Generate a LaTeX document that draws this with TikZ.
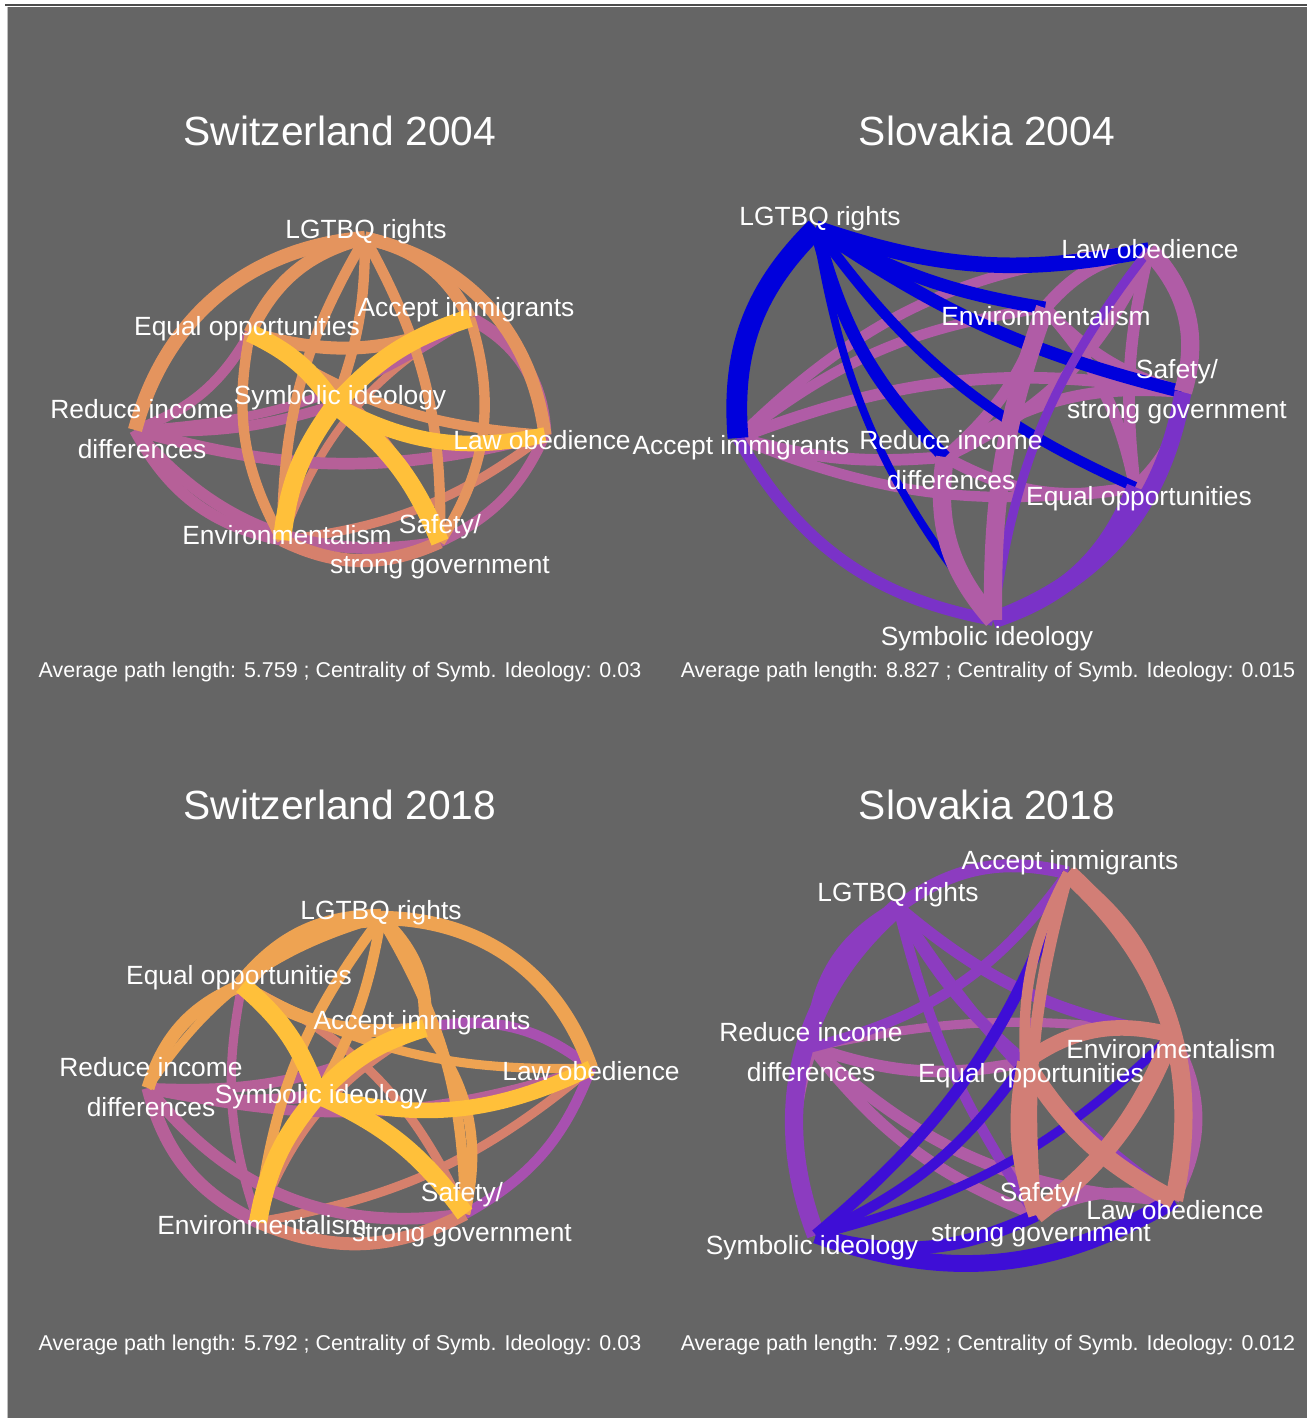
\documentclass[tikz,border=0pt]{standalone}
\usepackage{fontspec}
\setmainfont{Liberation Sans}
\usepackage{tikz}

\definecolor{panelgray}{RGB}{101,101,101}
\definecolor{chyellow}{RGB}{255,192,58}
\definecolor{chorange}{RGB}{228,148,94}
\definecolor{chorangeb}{RGB}{238,163,82}
\definecolor{chmagenta}{RGB}{182,96,152}
\definecolor{chsalmon}{RGB}{214,128,108}
\definecolor{chpurple}{RGB}{168,80,176}
\definecolor{skblue}{RGB}{0,0,220}
\definecolor{skviolet}{RGB}{122,50,200}
\definecolor{skmauve}{RGB}{176,92,166}
\definecolor{skindigo}{RGB}{62,14,214}
\definecolor{skpurple}{RGB}{140,60,192}
\definecolor{sksalmon}{RGB}{210,126,118}

\tikzset{
  lnk/.style={line cap=butt},
  vlabel/.style={text=white, font=\fontsize{15}{22.7}\selectfont, inner sep=0pt, align=center},
  ptitle/.style={text=white, font=\fontsize{23.2}{28}\selectfont, inner sep=0pt},
  pfoot/.style={text=white, font=\fontsize{12.2}{14}\selectfont, inner sep=0pt}
}

\begin{document}
\begin{tikzpicture}[x=0.02cm, y=-0.02cm]
\useasboundingbox (0,0) rectangle (1307,1418);
\fill[white] (0,0) rectangle (1307,1418);
\fill[panelgray] (7,7) rectangle (1307,1418);
\draw[black!70, line width=0.3mm] (5,5) -- (1307,5);
\draw[black!25, line width=0.2mm] (7,7) -- (7,1418);

% node points
\coordinate (chaL) at (365,238);  \coordinate (chaA) at (470,318);
\coordinate (chaE) at (250,333);  \coordinate (chaS) at (335,405);
\coordinate (chaR) at (135,430);  \coordinate (chaO) at (545,435);
\coordinate (chaV) at (282,540);  \coordinate (chaG) at (440,542);

\coordinate (skaL) at (816,228);  \coordinate (skaO) at (1149,250);
\coordinate (skaV) at (1045,308); \coordinate (skaG) at (1183,392);
\coordinate (skaA) at (738,438);  \coordinate (skaR) at (945,457);
\coordinate (skaE) at (1135,487); \coordinate (skaS) at (993,620);

\coordinate (chbL) at (381,918);  \coordinate (chbE) at (242,985);
\coordinate (chbA) at (425,1028); \coordinate (chbO) at (591,1068);
\coordinate (chbR) at (148,1088); \coordinate (chbS) at (318,1095);
\coordinate (chbG) at (465,1214); \coordinate (chbV) at (258,1222);

\coordinate (skbA) at (1068,873); \coordinate (skbL) at (898,907);
\coordinate (skbR) at (812,1047); \coordinate (skbV) at (1172,1035);
\coordinate (skbE) at (1025,1062);\coordinate (skbG) at (1036,1215);
\coordinate (skbO) at (1174,1200);\coordinate (skbS) at (816,1235);

% Switzerland 2004
\foreach \a/\b/\c/\w/\k in {
  chaA/chaV/chsalmon/6/-20, chaE/chaG/chsalmon/7/20, chaO/chaV/chsalmon/7/15,
  chaR/chaA/chmagenta/7/-15, chaR/chaE/chmagenta/8/-20, chaR/chaS/chmagenta/8/-10,
  chaR/chaO/chmagenta/9/-15, chaR/chaG/chmagenta/9/-30, chaV/chaR/chmagenta/9/25,
  chaO/chaG/chmagenta/8/20, chaA/chaO/chmagenta/10/30, chaG/chaV/chsalmon/10/25,
  chaL/chaV/chorange/8/-15, chaL/chaG/chorange/8/15, chaL/chaS/chorange/8/10,
  chaE/chaV/chorange/8/-20, chaE/chaO/chorange/8/-15, chaA/chaG/chorange/8/25,
  chaE/chaA/chorange/10/-20, chaL/chaA/chorange/10/25, chaL/chaO/chorange/10/35,
  chaE/chaL/chorange/10/25, chaR/chaL/chorange/11/35,
  chaS/chaO/chyellow/12/-20, chaS/chaE/chyellow/14/-15, chaS/chaG/chyellow/14/15,
  chaS/chaA/chyellow/14/15, chaS/chaV/chyellow/14/-15}
  \draw[lnk, draw=\c, line width=\w*0.26mm] (\a) to[bend left=\k] (\b);

% Slovakia 2004
\foreach \a/\b/\c/\w/\k in {
  skaA/skaO/skmauve/8/20, skaA/skaV/skmauve/8/15, skaA/skaG/skmauve/9/15,
  skaA/skaR/skmauve/9/-10, skaA/skaE/skmauve/8/-15, skaR/skaV/skmauve/9/-15,
  skaR/skaO/skmauve/9/-20, skaR/skaG/skmauve/9/20, skaR/skaE/skmauve/9/-20,
  skaV/skaO/skmauve/10/20, skaV/skaG/skmauve/9/-15, skaV/skaE/skmauve/9/15,
  skaO/skaE/skmauve/9/-10, skaG/skaE/skmauve/9/20,
  skaL/skaS/skblue/6/-15, skaL/skaE/skblue/8/-15, skaL/skaR/skblue/10/-15,
  skaL/skaG/skblue/10/-10, skaL/skaV/skblue/10/-10, skaL/skaO/skblue/12/-15,
  skaS/skaO/skviolet/7/15, skaS/skaA/skviolet/9/25,
  skaE/skaS/skviolet/13/25, skaG/skaS/skviolet/13/30,
  skaO/skaG/skmauve/14/30, skaR/skaS/skmauve/14/-25, skaV/skaS/skmauve/14/-10,
  skaA/skaL/skblue/16/25}
  \draw[lnk, draw=\c, line width=\w*0.26mm] (\a) to[bend left=\k] (\b);

% Switzerland 2018
\foreach \a/\b/\c/\w/\k in {
  chbA/chbV/chsalmon/6/-20, chbE/chbG/chsalmon/7/20, chbO/chbV/chsalmon/7/15,
  chbR/chbA/chmagenta/8/-15, chbE/chbV/chmagenta/7/-15, chbR/chbS/chmagenta/9/-10,
  chbR/chbO/chmagenta/8/-15, chbR/chbG/chmagenta/9/-30, chbV/chbR/chmagenta/10/25,
  chbO/chbG/chpurple/8/20, chbA/chbO/chpurple/8/25, chbG/chbV/chsalmon/10/25,
  chbR/chbL/chorangeb/6/20,
  chbL/chbV/chorangeb/8/-15, chbL/chbG/chorangeb/8/15, chbL/chbS/chorangeb/8/10,
  chbE/chbO/chorangeb/7/-15, chbA/chbG/chorangeb/8/25, chbE/chbR/chorangeb/10/-25,
  chbE/chbA/chorangeb/10/-20, chbL/chbA/chorangeb/10/25, chbL/chbO/chorangeb/11/35,
  chbE/chbL/chorangeb/14/25,
  chbS/chbO/chyellow/12/-20, chbS/chbE/chyellow/14/-15, chbS/chbG/chyellow/14/15,
  chbS/chbA/chyellow/14/15, chbS/chbV/chyellow/14/-15}
  \draw[lnk, draw=\c, line width=\w*0.26mm] (\a) to[bend left=\k] (\b);

% Slovakia 2018
\foreach \a/\b/\c/\w/\k in {
  skbR/skbV/skmauve/7/10, skbV/skbO/skmauve/8/30, skbG/skbO/skmauve/8/20,
  skbR/skbE/skmauve/9/-15, skbR/skbG/skmauve/9/-15, skbR/skbO/skmauve/9/-20,
  skbR/skbS/skmauve/9/-20,
  skbL/skbE/skpurple/9/-10, skbL/skbG/skpurple/8/-10, skbL/skbV/skpurple/9/-15,
  skbL/skbO/skpurple/8/-10, skbR/skbA/skpurple/8/-20,
  skbL/skbA/skpurple/10/25, skbR/skbL/skpurple/10/30, skbL/skbS/skpurple/14/-35,
  skbS/skbV/skindigo/7/-15, skbS/skbE/skindigo/8/-15, skbS/skbA/skindigo/9/-15,
  skbS/skbG/skindigo/10/-20, skbS/skbO/skindigo/13/-25,
  skbA/skbE/sksalmon/8/-15, skbA/skbG/sksalmon/9/-10, skbA/skbV/sksalmon/10/20,
  skbE/skbV/sksalmon/12/25, skbE/skbG/sksalmon/12/-15,
  skbA/skbO/sksalmon/14/30, skbE/skbO/sksalmon/14/-15, skbV/skbG/sksalmon/14/15}
  \draw[lnk, draw=\c, line width=\w*0.26mm] (\a) to[bend left=\k] (\b);

% titles and footers
\node[ptitle] (chaTitle) at (340,131) {Switzerland 2004};
\node[ptitle] (skaTitle) at (987,131) {Slovakia 2004};
\node[ptitle] (chbTitle) at (340,805) {Switzerland 2018};
\node[ptitle] (skbTitle) at (987,805) {Slovakia 2018};
\node[pfoot] (chaFoot) at (340,672) {Average path length: 5.759 ; Centrality of Symb. Ideology: 0.03};
\node[pfoot] (skaFoot) at (988,672) {Average path length: 8.827 ; Centrality of Symb. Ideology: 0.015};
\node[pfoot] (chbFoot) at (340,1345) {Average path length: 5.792 ; Centrality of Symb. Ideology: 0.03};
\node[pfoot] (skbFoot) at (988,1345) {Average path length: 7.992 ; Centrality of Symb. Ideology: 0.012};

% labels
\node[vlabel] (chaLtxt) at (366,232) {LGTBQ rights};
\node[vlabel] (chaAtxt) at (466,310) {Accept immigrants};
\node[vlabel] (chaEtxt) at (247,329) {Equal opportunities};
\node[vlabel] (chaStxt) at (340,398) {Symbolic ideology};
\node[vlabel] (chaRtxt) at (142,429) {Reduce income\\differences};
\node[vlabel] (chaOtxt) at (542,440) {Law obedience};
\node[vlabel] (chaVtxt) at (287,535) {Environmentalism};
\node[vlabel] (chaGtxt) at (440,547) {Safety/\\strong government};

\node[vlabel] (skaLtxt) at (820,219) {LGTBQ rights};
\node[vlabel] (skaOtxt) at (1150,249) {Law obedience};
\node[vlabel] (skaVtxt) at (1046,316) {Environmentalism};
\node[vlabel] (skaGtxt) at (1177,392) {Safety/\\strong government};
\node[vlabel] (skaAtxt) at (741,448) {Accept immigrants};
\node[vlabel] (skaRtxt) at (951,460) {Reduce income\\differences};
\node[vlabel] (skaEtxt) at (1139,499) {Equal opportunities};
\node[vlabel] (skaStxt) at (987,639) {Symbolic ideology};

\node[vlabel] (chbLtxt) at (381,913) {LGTBQ rights};
\node[vlabel] (chbEtxt) at (239,978) {Equal opportunities};
\node[vlabel] (chbAtxt) at (422,1023) {Accept immigrants};
\node[vlabel] (chbOtxt) at (591,1071) {Law obedience};
\node[vlabel] (chbRtxt) at (151,1087) {Reduce income\\differences};
\node[vlabel] (chbStxt) at (321,1097) {Symbolic ideology};
\node[vlabel] (chbGtxt) at (462,1215) {Safety/\\strong government};
\node[vlabel] (chbVtxt) at (262,1225) {Environmentalism};

\node[vlabel] (skbAtxt) at (1070,863) {Accept immigrants};
\node[vlabel] (skbLtxt) at (898,895) {LGTBQ rights};
\node[vlabel] (skbRtxt) at (811,1052) {Reduce income\\differences};
\node[vlabel] (skbVtxt) at (1171,1049) {Environmentalism};
\node[vlabel] (skbEtxt) at (1031,1076) {Equal opportunities};
\node[vlabel] (skbGtxt) at (1041,1215) {Safety/\\strong government};
\node[vlabel] (skbOtxt) at (1175,1210) {Law obedience};
\node[vlabel] (skbStxt) at (812,1248) {Symbolic ideology};
\end{tikzpicture}
\end{document}
